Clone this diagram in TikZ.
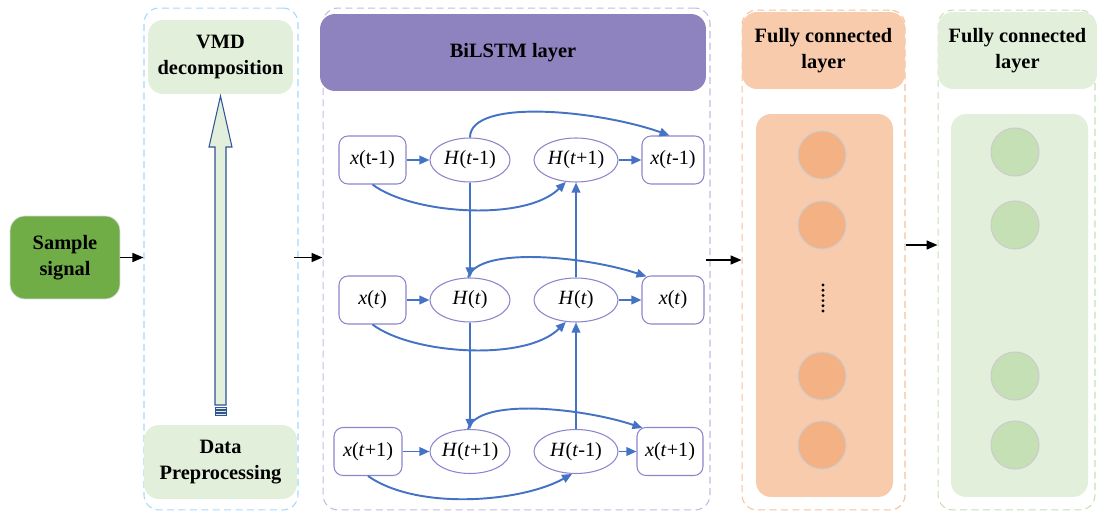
\documentclass[tikz,border=0pt]{standalone}
\usepackage{fontspec}
\setmainfont{Liberation Serif}
\usetikzlibrary{arrows.meta,shapes.geometric,calc}

\definecolor{lgreen}{HTML}{E2EFDA}
\definecolor{dgreen}{HTML}{70AD47}
\definecolor{cgreen}{HTML}{C5E0B4}
\definecolor{lorange}{HTML}{F8CBAD}
\definecolor{corange}{HTML}{F4B183}
\definecolor{lpurple}{HTML}{8E82BF}
\definecolor{nborder}{HTML}{8C84CC}
\definecolor{cblue}{HTML}{4472C4}
\definecolor{darrow}{HTML}{2F5597}

\tikzset{
  frame/.style={draw=#1, dashed, dash pattern=on 4pt off 2.5pt, line width=0.6pt, rounded corners=0.3cm},
  head/.style={fill=#1, rounded corners=0.3cm, align=center, font=\fontsize{11.6}{15}\selectfont\bfseries},
  xbox/.style={draw=nborder, line width=0.6pt, rounded corners=0.18cm, minimum height=0.96cm, inner sep=0pt, font=\fontsize{11.5}{13}\selectfont},
  hcell/.style={draw=nborder, line width=0.6pt, ellipse, minimum height=0.88cm, inner sep=0pt, font=\fontsize{11.5}{13}\selectfont},
  unit/.style={circle, fill=#1, draw=black!20, line width=0.6pt, minimum size=0.96cm, inner sep=0pt},
  link/.style={cblue, line width=1.1pt, -{Triangle[length=0.2cm,width=0.17cm]}},
  pass/.style={black, line width=0.9pt, -{Triangle[length=0.22cm,width=0.18cm]}}
}

\begin{document}
\begin{tikzpicture}[x=0.02cm, y=-0.02cm]

            \useasboundingbox (0,0) rectangle (1097,513);

            % dashed frames
            \node (f1) at (221, 259) [frame=blue!45!cyan!35, minimum width=3.08cm, minimum height=10.04cm] {};
            \node (f2) at (516.5, 259) [frame=nborder!55, minimum width=7.74cm, minimum height=10.04cm] {};
            \node (f3) at (823.5, 260) [frame=corange!80, minimum width=3.26cm, minimum height=10cm] {};
            \node (f4) at (1016.5, 260) [frame=cgreen, minimum width=3.14cm, minimum height=10cm] {};

            % input and preprocessing
            \node (in) at (65, 257.5) [head=dgreen, draw=black!15, minimum width=2.2cm, minimum height=1.66cm] {Sample\\signal};
            \node (vmd) at (220.5, 57) [head=lgreen, minimum width=2.9cm, minimum height=1.48cm] {VMD\\decomposition};
            \node (pre) at (220.5, 462) [head=lgreen, minimum width=3.06cm, minimum height=1.48cm] {Data\\Preprocessing};

            \draw[darrow, fill=lgreen, line width=0.6pt]
              (215,405) -- (215,147) -- (209,147) -- (220.5,96) -- (232,147) -- (226,147) -- (226,405) -- cycle;
            \foreach \s in {407.5, 410.5, 413.5}
              \draw[darrow, fill=lgreen, line width=0.4pt] (215,\s) rectangle (226,\s+2);

            % BiLSTM
            \node (bl) at (513, 52.5) [head=lpurple, minimum width=7.72cm, minimum height=1.54cm] {BiLSTM layer};

            \node (1-1) at (372.5, 160) [xbox, minimum width=1.34cm] {\textit{x}(t-1)};
            \node (1-2) at (470, 160) [hcell, minimum width=1.6cm] {\textit{H}(\textit{t}-1)};
            \node (1-3) at (576, 160) [hcell, minimum width=1.68cm] {\textit{H}(\textit{t}+1)};
            \node (1-4) at (673, 160) [xbox, minimum width=1.24cm] {\textit{x}(\textit{t}-1)};

            \node (2-1) at (372.5, 300) [xbox, minimum width=1.34cm] {\textit{x}(\textit{t})};
            \node (2-2) at (470, 300) [hcell, minimum width=1.6cm] {\textit{H}(\textit{t})};
            \node (2-3) at (576, 300) [hcell, minimum width=1.68cm] {\textit{H}(\textit{t})};
            \node (2-4) at (673, 300) [xbox, minimum width=1.24cm] {\textit{x}(\textit{t})};

            \node (3-1) at (368, 451.5) [xbox, minimum width=1.36cm] {\textit{x}(\textit{t}+1)};
            \node (3-2) at (470, 451.5) [hcell, minimum width=1.6cm] {\textit{H}(\textit{t}+1)};
            \node (3-3) at (576, 451.5) [hcell, minimum width=1.68cm] {\textit{H}(\textit{t}-1)};
            \node (3-4) at (670, 451.5) [xbox, minimum width=1.32cm] {\textit{x}(\textit{t}+1)};

            \draw[link] (1-1) -- (1-2);
            \draw[link] (1-3) -- (1-4);
            \draw[link] (2-1) -- (2-2);
            \draw[link] (2-3) -- (2-4);
            \draw[link] (3-1) -- (3-2);
            \draw[link] (3-3) -- (3-4);

            \draw[link] (1-2) -- (2-2);
            \draw[link] (2-2) -- (3-2);
            \draw[link] (2-3) -- (1-3);
            \draw[link] (3-3) -- (2-3);

            \draw[link] (1-2.north) .. controls +(0,-40) and +(-70,-25) .. (1-4.98);
            \draw[link] (1-1.south) .. controls +(40,30) and +(-40,40) .. (1-3.245);

            \draw[link] (2-2.95) .. controls +(10,-32) and +(-60,-20) .. ($(2-4.north west)+(5,1)$);
            \draw[link] (2-1.south) .. controls +(40,30) and +(-40,40) .. (2-3.245);

            \draw[link] (3-2.95) .. controls +(10,-32) and +(-60,-20) .. ($(3-4.north west)+(6,1)$);
            \draw[link] (3-1.south) .. controls +(50,35) and +(-50,28) .. (3-3.260);

            % fully connected layers
            \node (fc1) at (823.5, 50.5) [head=lorange, minimum width=3.26cm, minimum height=1.54cm] {Fully connected\\layer};
            \node (fc2) at (1017.5, 50.5) [head=lgreen, minimum width=3.18cm, minimum height=1.54cm] {Fully connected\\layer};
            \node (b1) at (824.5, 305.5) [fill=lorange, rounded corners=0.3cm, minimum width=2.74cm, minimum height=7.66cm] {};
            \node (b2) at (1019.5, 305.5) [fill=lgreen, rounded corners=0.3cm, minimum width=2.74cm, minimum height=7.66cm] {};

            \node (u-1) at (822, 155) [unit=corange] {};
            \node (u-2) at (822, 225) [unit=corange] {};
            \node (u-3) at (822, 376) [unit=corange] {};
            \node (u-4) at (822, 445) [unit=corange] {};
            \foreach \k in {0,...,5}
              \fill (823, 285+\k*5.2) circle (0.9pt);

            \node (v-1) at (1015, 152) [unit=cgreen] {};
            \node (v-2) at (1015, 225) [unit=cgreen] {};
            \node (v-3) at (1015, 376) [unit=cgreen] {};
            \node (v-4) at (1015, 445) [unit=cgreen] {};

            % flow between stages
            \draw[pass] (in) -- (f1.west |- in);
            \draw[pass] ($(f1.east |- in)+(-5,0)$) -- (f2.west |- in);
            \draw[pass] ($(f2.east)+(-5,1)$) -- ($(f3.west)+(0,0)$);
            \draw[pass] ($(f3.east)+(0,-15)$) -- ($(f4.west)+(0,-15)$);

        \end{tikzpicture}
\end{document}
